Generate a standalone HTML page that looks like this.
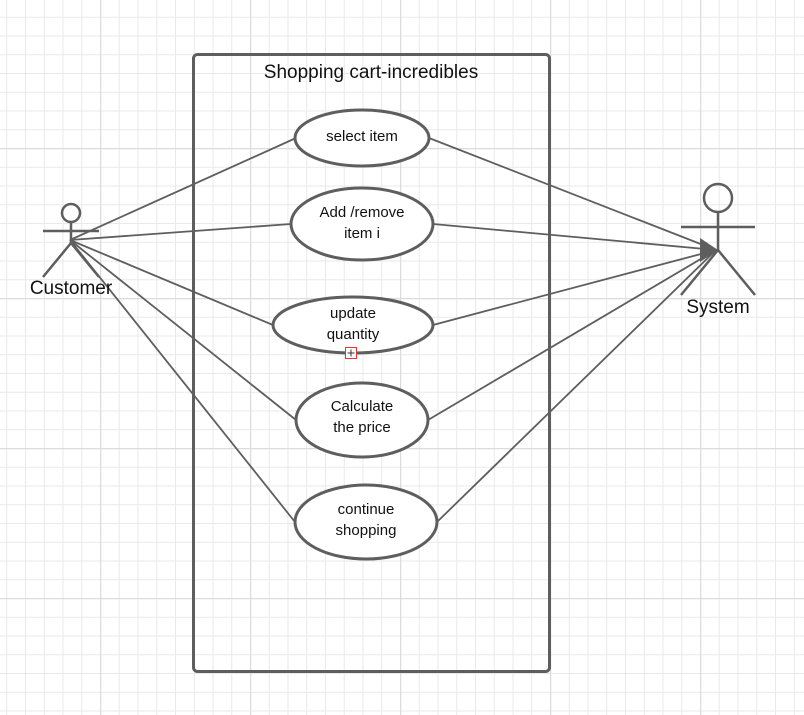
<!DOCTYPE html>
<html><head><style>
html,body{margin:0;padding:0;background:#fff;}
svg{display:block;}
text{font-family:"Liberation Sans",sans-serif;fill:#111;}
</style></head><body>
<svg width="804" height="715" xmlns="http://www.w3.org/2000/svg">
<defs>
<pattern id="minor" x="-50" y="-2" width="18.75" height="18.75" patternUnits="userSpaceOnUse">
<path d="M0 0V18.75M0 0H18.75" stroke="#e9e9e9" stroke-width="2" fill="none"/>
</pattern>
<pattern id="major" x="-50" y="-2" width="150" height="150" patternUnits="userSpaceOnUse">
<path d="M0 0V150M0 0H150" stroke="#dcdcdc" stroke-width="2.5" fill="none"/>
</pattern>
</defs>
<rect width="804" height="715" fill="url(#minor)"/>
<rect width="804" height="715" fill="url(#major)"/>
<rect x="193.5" y="54.5" width="356" height="617" rx="4" fill="none" stroke="#5e5e5e" stroke-width="3"/>
<text x="371" y="78" font-size="19" text-anchor="middle" fill="#333">Shopping cart-incredibles</text>
<g stroke="#5e5e5e" stroke-width="1.8" fill="none">
<line x1="70" y1="240" x2="296" y2="138"/>
<line x1="70" y1="240" x2="291" y2="224"/>
<line x1="70" y1="240" x2="273" y2="325"/>
<line x1="70" y1="240" x2="296" y2="420"/>
<line x1="70" y1="240" x2="295" y2="522"/>
<line x1="429" y1="138" x2="716" y2="250"/>
<line x1="433" y1="224" x2="716" y2="250"/>
<line x1="433" y1="325" x2="716" y2="250"/>
<line x1="428" y1="420" x2="716" y2="250"/>
<line x1="437" y1="522" x2="716" y2="250"/>
</g>
<polygon points="718,250 700,238 700,262" fill="#5e5e5e"/>
<g stroke="#5e5e5e" stroke-width="3" fill="#fff">
<ellipse cx="362" cy="138" rx="67" ry="28"/>
<ellipse cx="362" cy="224" rx="71" ry="36"/>
<ellipse cx="353" cy="325" rx="80" ry="28"/>
<ellipse cx="362" cy="420" rx="66" ry="37"/>
<ellipse cx="366" cy="522" rx="71" ry="37"/>
</g>
<g font-size="15" text-anchor="middle">
<text x="362" y="141">select item</text>
<text x="362" y="217">Add /remove</text>
<text x="362" y="238">item i</text>
<text x="353" y="318">update</text>
<text x="353" y="339">quantity</text>
<text x="362" y="411">Calculate</text>
<text x="362" y="432">the price</text>
<text x="366" y="514">continue</text>
<text x="366" y="535">shopping</text>
</g>
<rect x="345.5" y="347.5" width="11" height="11" fill="#fff" stroke="#e33" stroke-width="1"/>
<path d="M351 349.5V356.5M347.5 353H354.5" stroke="#333" stroke-width="1"/>
<g stroke="#5e5e5e" stroke-width="2.5" fill="none">
<circle cx="71" cy="213" r="9"/>
<line x1="43" y1="231" x2="99" y2="231"/>
<line x1="71" y1="222" x2="71" y2="243"/>
<line x1="71" y1="243" x2="43" y2="277"/>
<line x1="71" y1="243" x2="99" y2="277"/>
<circle cx="718" cy="198" r="14"/>
<line x1="681" y1="227" x2="755" y2="227"/>
<line x1="718" y1="212" x2="718" y2="250"/>
<line x1="718" y1="250" x2="681" y2="295"/>
<line x1="718" y1="250" x2="755" y2="295"/>
</g>
<text x="71" y="294" font-size="19" text-anchor="middle" fill="#333">Customer</text>
<text x="718" y="313" font-size="19" text-anchor="middle" fill="#333">System</text>
</svg>
</body></html>
